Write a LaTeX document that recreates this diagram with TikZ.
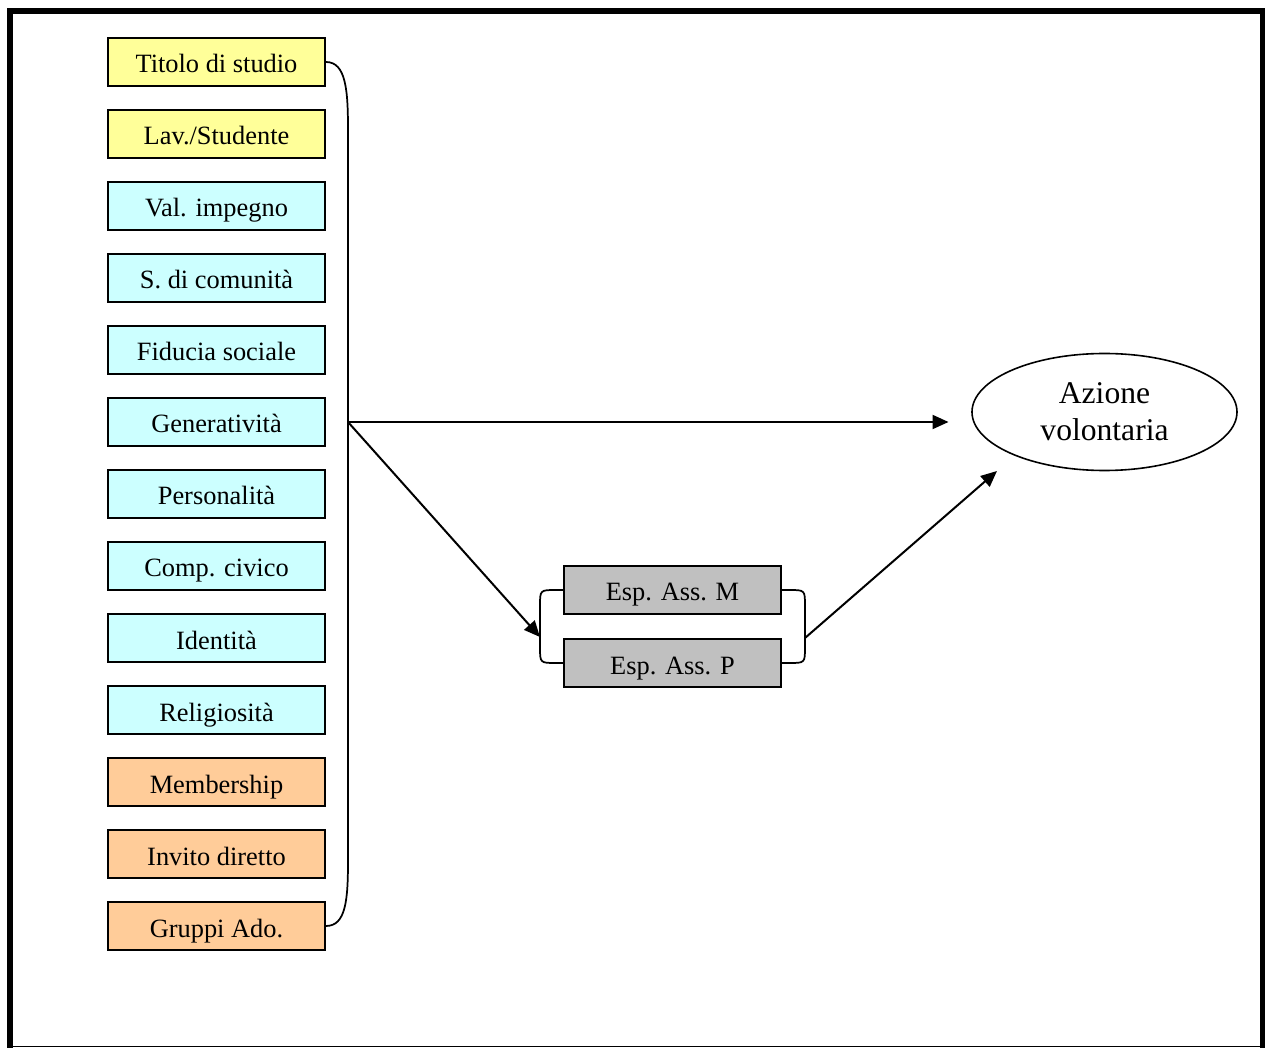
\documentclass[tikz,border=0pt]{standalone}
\usepackage{fontspec}
\setmainfont{Liberation Serif}
\usetikzlibrary{shapes.geometric,arrows.meta,calc}
\definecolor{cyellow}{HTML}{FFFF99}
\definecolor{ccyan}{HTML}{CCFFFF}
\definecolor{corange}{HTML}{FFCC99}
\definecolor{cgray}{HTML}{C0C0C0}
\begin{document}
\begin{tikzpicture}[x=0.75pt,y=-0.75pt,
  varbox/.style={draw=black,line width=1.4pt,minimum width=162.75pt,minimum height=36pt,
    inner sep=0pt,text height=16.5pt,text depth=0pt,font=\fontsize{19.8}{24}\selectfont},
  ybox/.style={varbox,fill=cyellow},
  cbox/.style={varbox,fill=ccyan},
  obox/.style={varbox,fill=corange},
  gbox/.style={varbox,fill=cgray},
  conn/.style={line width=1.5pt,-{Triangle[length=12pt,width=10.5pt]}},
  brace/.style={line width=1.3pt}]
\useasboundingbox (0,0) rectangle (1265,1048);
% frame
\draw[line width=4.5pt] (9.5,1048) -- (9.5,11.5) -- (1263,11.5) -- (1263,1048);
\draw[line width=1.2pt] (9.5,1046.5) -- (1263,1046.5);
% left column
\node[ybox] (b1) at (216.5,62) {Titolo di studio};
\node[ybox] (b2) at (216.5,134) {Lav./Studente};
\node[cbox] (b3) at (216.5,206) {Val. impegno};
\node[cbox] (b4) at (216.5,278) {S. di comunità};
\node[cbox] (b5) at (216.5,350) {Fiducia sociale};
\node[cbox] (b6) at (216.5,422) {Generatività};
\node[cbox] (b7) at (216.5,494) {Personalità};
\node[cbox] (b8) at (216.5,566) {Comp. civico};
\node[cbox] (b9) at (216.5,638) {Identità};
\node[cbox] (b10) at (216.5,710) {Religiosità};
\node[obox] (b11) at (216.5,782) {Membership};
\node[obox] (b12) at (216.5,854) {Invito diretto};
\node[obox] (b13) at (216.5,926) {Gruppi Ado.};
% brace
\draw[brace] (b1.east) .. controls ($(b1.east)+(20,0)$) and (348,90) .. (348,130)
  -- (348,860) .. controls (348,900) and ($(b13.east)+(20,0)$) .. (b13.east);
\coordinate (hub) at (348,422);
% gray boxes
\node[gbox] (m) at (672.5,590) {Esp. Ass. M};
\node[gbox] (p) at (672.5,663) {Esp. Ass. P};
\draw[brace] (m.west) -- (556,590) .. controls (540,590) .. (540,606) -- (540,647)
  .. controls (540,663) .. (556,663) -- (p.west);
\draw[brace] (m.east) -- (789,590) .. controls (805,590) .. (805,606) -- (805,647)
  .. controls (805,663) .. (789,663) -- (p.east);
\coordinate (lb) at (540,637);
\coordinate (rb) at (805,638);
\coordinate (aztip) at (997,471);
% ellipse
\node[draw=black,line width=1.2pt,ellipse,minimum width=198.75pt,minimum height=87.75pt,
  inner sep=0pt,align=center,font=\fontsize{23.7}{27.75}\selectfont] (az) at (1104.5,412)
  {Azione\\volontaria};
\coordinate (hz) at (hub -| az.west);
% arrows
\draw[conn,shorten >=17pt] (hub) -- (hz);
\draw[conn] (hub) -- (lb);
\draw[conn] (rb) -- (aztip);
\end{tikzpicture}
\end{document}
